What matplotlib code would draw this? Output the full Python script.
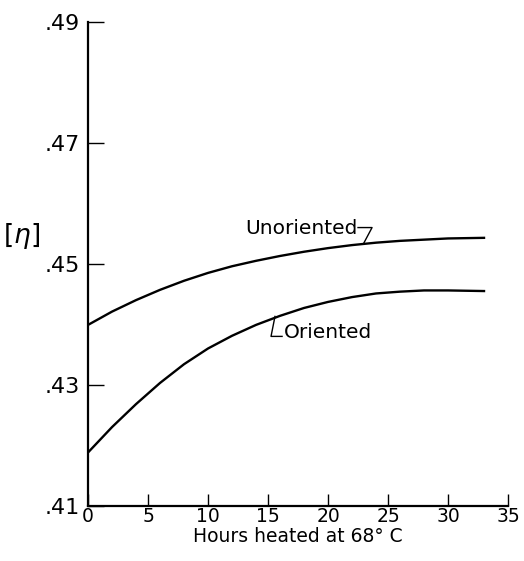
import numpy as np
import matplotlib
matplotlib.use("Agg")
import matplotlib.pyplot as plt

# values
hours = [0, 2, 4, 6, 8, 10, 12, 14, 16, 18, 20, 22, 24, 26, 28, 30, 33]
unoriented = [0.4399, 0.4421, 0.4440, 0.4457, 0.4472, 0.4485, 0.4496, 0.4505,
              0.4513, 0.4520, 0.4526, 0.4531, 0.4535, 0.4538, 0.4540, 0.4542, 0.4543]
oriented = [0.4188, 0.4230, 0.4268, 0.4303, 0.4334, 0.4360, 0.4381, 0.4399,
            0.4414, 0.4427, 0.4437, 0.4445, 0.4451, 0.4454, 0.4456, 0.4456, 0.4455]

x_ticks = [0, 5, 10, 15, 20, 25, 30, 35]
y_ticks = [0.41, 0.43, 0.45, 0.47, 0.49]
y_tick_labels = [".41", ".43", ".45", ".47", ".49"]

# label leaders (hand-drawn ticks pointing at the curves)
unor_leader_x = [22.5, 23.67, 23.0]
unor_leader_y = [0.4560, 0.4560, 0.4535]
orie_leader_x = [15.58, 15.25, 16.17]
orie_leader_y = [0.4413, 0.4380, 0.4380]

fig = plt.figure(figsize=(5.24, 5.61), dpi=100)
ax = fig.add_axes([0.168, 0.0986, 0.8015, 0.8622])

ax.plot(hours, unoriented, color="black", lw=1.7)
ax.plot(hours, oriented, color="black", lw=1.7)

ax.plot(unor_leader_x, unor_leader_y, color="black", lw=1.0)
ax.plot(orie_leader_x, orie_leader_y, color="black", lw=1.0)
ax.text(22.45, 0.4549, "Unoriented", fontsize=14.5, ha="right", va="baseline")
ax.text(16.35, 0.4378, "Oriented", fontsize=14.5, ha="left", va="baseline")

ax.set_xlim(0, 35)
ax.set_ylim(0.41, 0.49)
ax.set_xticks(x_ticks)
ax.set_yticks(y_ticks)
ax.set_yticklabels(y_tick_labels)

for s in ["top", "right"]:
    ax.spines[s].set_visible(False)
for s in ["left", "bottom"]:
    ax.spines[s].set_linewidth(1.6)

ax.tick_params(axis="y", direction="in", length=11.5, width=1.0,
               labelsize=16, pad=6)
ax.tick_params(axis="x", direction="in", length=8.5, width=1.0,
               labelsize=13.5, pad=1)

ax.set_xlabel("Hours heated at 68° C", fontsize=13.5, labelpad=1)
ax.set_ylabel("[$\\eta$]", fontsize=19, rotation=0, va="center")
ax.yaxis.set_label_coords(-0.158, 0.557)

fig.savefig("out.png", dpi=100)
